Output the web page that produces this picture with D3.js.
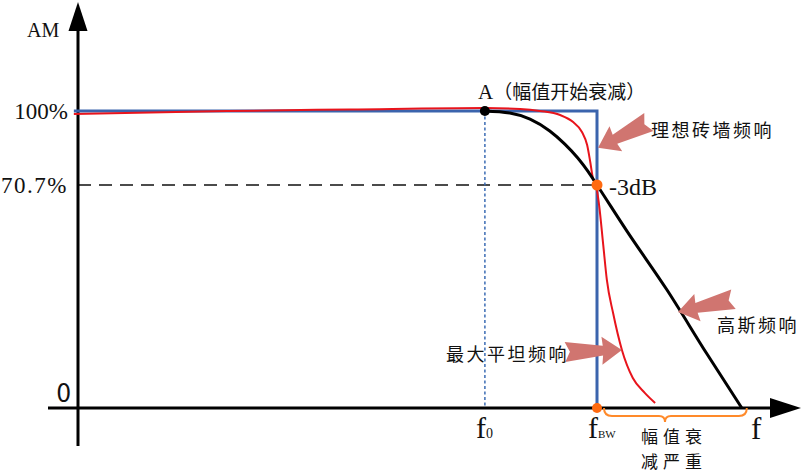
<!DOCTYPE html>
<html>
<head>
<meta charset="utf-8">
<script src="https://cdn.jsdelivr.net/npm/d3@7"></script>
<style>
  body { margin: 0; background: #fff; }
  .latin { font-family: "Liberation Serif", "DejaVu Serif", serif; fill: #111; }
  .cjk { font-family: "Noto Sans CJK SC", "Noto Sans", sans-serif; fill: #111; }
</style>
</head>
<body>
<div id="chart"></div>
<script>
// frequency is normalised so that fBW = 1, amplitude is in %
var idealF = [-0.008, 1, 1];
var idealA = [100, 100, 0];

// maximally flat (red) response
var flatF = [-0.008, 0.287, 0.524, 0.784, 0.852, 0.890, 0.929, 0.954, 0.971, 0.981,
             0.987, 0.992, 0.998, 1.004, 1.012, 1.019, 1.031, 1.048, 1.069, 1.092, 1.112];
var flatA = [98.8, 100, 100.6, 101.2, 100.8, 100, 98.4, 95.6, 91.7, 86.5,
             79.8, 73.5, 70.7, 64.4, 51.7, 40.6, 30.1, 18.4, 9.5, 4.8, 1.6];

// gaussian (black) response, starts at point A
var gaussF = [0.784, 0.832, 0.871, 0.909, 0.938, 0.963, 0.983, 1.0, 1.058, 1.135, 1.212, 1.279];
var gaussA = [100, 99.2, 96.8, 92.1, 86.9, 81.4, 76.0, 70.7, 56.0, 37.4, 17.1, 0];

// tick values and labels
var yTickVals = [100, 70.7, 0];
var yTickLabels = ["100%", "70.7%", "0"];
var xTickVals = [0.784, 1];
var xTickSubs = ["0", "BW"];

// key points
var f0 = 0.784, fBW = 1, fGaussEnd = 1.279, fBraceMid = 1.131;

// svg setup
var svgWidth = 803, svgHeight = 474;
var svg = d3.select("#chart").append("svg")
  .attr("width", svgWidth)
  .attr("height", svgHeight);

var x = d3.scaleLinear().domain([0, 1]).range([78, 597]);
// schematic amplitude axis: the -3dB level sits higher than a linear scale would put it
var y = d3.scaleLinear().domain([0, 70.7, 100]).range([408, 185, 111]);

var zip = (fs, as) => fs.map((f, i) => ({f: f, a: as[i]}));
var lineGen = d3.line().x(d => x(d.f)).y(d => y(d.a));

// -3dB dashed guide and f0 dotted guide
svg.append("line")
  .attr("x1", x(0)).attr("x2", x(fBW))
  .attr("y1", y(70.7)).attr("y2", y(70.7))
  .attr("stroke", "#111").attr("stroke-width", 1.5)
  .attr("stroke-dasharray", "13,8");

svg.append("line")
  .attr("x1", x(f0)).attr("x2", x(f0))
  .attr("y1", y(100)).attr("y2", y(0))
  .attr("stroke", "#3c6cb4").attr("stroke-width", 1.5)
  .attr("stroke-dasharray", "3,2.5");

// axes
svg.append("line")
  .attr("x1", x(0)).attr("x2", x(0))
  .attr("y1", 446).attr("y2", 28)
  .attr("stroke", "#000").attr("stroke-width", 3);
svg.append("path")
  .attr("d", `M${x(0)},2 L${x(0) - 9.5},31 L${x(0) + 9.5},31 Z`)
  .attr("fill", "#000");

svg.append("line")
  .attr("x1", 48).attr("x2", 772)
  .attr("y1", y(0)).attr("y2", y(0))
  .attr("stroke", "#000").attr("stroke-width", 3);
svg.append("path")
  .attr("d", `M801,${y(0)} L770,${y(0) - 10} L770,${y(0) + 10} Z`)
  .attr("fill", "#000");

// curves
svg.append("path")
  .datum(zip(idealF, idealA))
  .attr("d", lineGen)
  .attr("fill", "none").attr("stroke", "#3b64ad").attr("stroke-width", 3);

svg.append("path")
  .datum(zip(flatF, flatA))
  .attr("d", lineGen.curve(d3.curveMonotoneX))
  .attr("fill", "none").attr("stroke", "#e8141c").attr("stroke-width", 2);

svg.append("path")
  .datum(zip(gaussF, gaussA))
  .attr("d", lineGen.curve(d3.curveMonotoneX))
  .attr("fill", "none").attr("stroke", "#000").attr("stroke-width", 3);

// points
svg.append("circle").attr("cx", x(f0)).attr("cy", y(100)).attr("r", 5).attr("fill", "#000");
svg.append("circle").attr("cx", x(fBW)).attr("cy", y(70.7)).attr("r", 5.5).attr("fill", "#ff6a10");
svg.append("circle").attr("cx", x(fBW)).attr("cy", y(0)).attr("r", 5).attr("fill", "#ff6a10");

// orange brace under the axis
var bx1 = x(fBW) + 7, bx2 = x(fGaussEnd) + 5, bxm = x(fBraceMid), by = y(0);
svg.append("path")
  .attr("d", `M${bx1},${by} Q${bx1},${by + 8} ${bx1 + 8},${by + 8} L${bxm - 6},${by + 8}` +
             ` Q${bxm},${by + 8} ${bxm},${by + 14} Q${bxm},${by + 8} ${bxm + 6},${by + 8}` +
             ` L${bx2 - 8},${by + 8} Q${bx2},${by + 8} ${bx2},${by}`)
  .attr("fill", "none").attr("stroke", "#ff8a2a").attr("stroke-width", 2);

// block arrows (tip in data coords, direction in degrees)
var arrows = [
  {f: 1.002, a: 85.4, angle: 153},
  {f: 1.156, a: 30.4, angle: 167},
  {f: 1.048, a: 18.4, angle: -2}
];
var arrowShape = "M0,0 L-20,-14 L-19,-5 L-57,-10 L-52,0 L-57,10 L-19,5 L-20,14 Z";
svg.append("g").selectAll("path")
  .data(arrows)
  .enter()
  .append("path")
  .attr("d", arrowShape)
  .attr("transform", d => `translate(${x(d.f)},${y(d.a)}) rotate(${d.angle})`)
  .attr("fill", "#d07570");

// y tick labels
svg.append("g").selectAll("text")
  .data(yTickVals)
  .enter()
  .append("text")
  .attr("class", (d, i) => i == 2 ? "cjk" : "latin")
  .attr("x", (d, i) => i == 2 ? 71 : 68)
  .attr("y", (d, i) => i == 2 ? y(d) - 6 : y(d) + 8)
  .attr("text-anchor", "end")
  .style("font-size", (d, i) => i == 2 ? "26px" : "23px")
  .style("letter-spacing", (d, i) => i == 1 ? "1.5px" : "0px")
  .text((d, i) => yTickLabels[i]);

svg.append("text").attr("class", "latin")
  .attr("x", 27).attr("y", 37)
  .style("font-size", "20px")
  .text("AM");

// x tick labels: f with subscript
var xLbls = svg.append("g").selectAll("text")
  .data(xTickVals)
  .enter()
  .append("text")
  .attr("class", "latin")
  .attr("x", d => x(d) - 9)
  .attr("y", 438)
  .style("font-size", "30px");
xLbls.append("tspan").text("f");
xLbls.append("tspan")
  .style("font-size", (d, i) => i == 0 ? "14px" : "11px")
  .text((d, i) => xTickSubs[i]);

svg.append("text").attr("class", "latin")
  .attr("x", 751).attr("y", 439)
  .style("font-size", "31px")
  .text("f");

// annotations
svg.append("text").attr("class", "cjk")
  .attr("x", 478).attr("y", 99)
  .style("font-size", "19px")
  .html('<tspan class="latin" style="font-size:21px">A</tspan>（幅值开始衰减）');

svg.append("text").attr("class", "latin")
  .attr("x", 609).attr("y", 195)
  .style("font-size", "24px")
  .text("-3dB");

svg.append("text").attr("class", "cjk")
  .attr("x", 651).attr("y", 137)
  .style("font-size", "18px").style("letter-spacing", "2.5px")
  .text("理想砖墙频响");

svg.append("text").attr("class", "cjk")
  .attr("x", 717).attr("y", 332)
  .style("font-size", "18px").style("letter-spacing", "2.5px")
  .text("高斯频响");

svg.append("text").attr("class", "cjk")
  .attr("x", 446).attr("y", 361)
  .style("font-size", "18px").style("letter-spacing", "2.5px")
  .text("最大平坦频响");

// two-line note under the brace
var note = svg.append("text").attr("class", "cjk")
  .style("font-size", "17px").style("letter-spacing", "5px");
note.append("tspan").attr("x", 641).attr("y", 443).text("幅值衰");
note.append("tspan").attr("x", 641).attr("y", 468).text("减严重");
</script>
</body>
</html>
